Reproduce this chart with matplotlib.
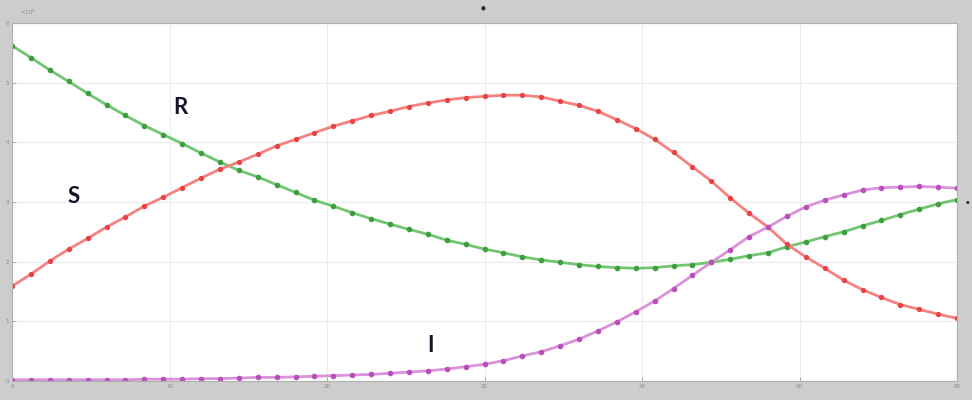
import numpy as np
import matplotlib
matplotlib.use("Agg")
import matplotlib.pyplot as plt

# time axis: 51 samples over 0..60
t = np.linspace(0, 60, 51)

# green curve (decreasing, then recovering)
s_vals = [5.62, 5.42, 5.21, 5.02, 4.82, 4.63, 4.45, 4.28, 4.13, 3.98,
          3.82, 3.67, 3.53, 3.42, 3.29, 3.16, 3.03, 2.93, 2.82, 2.72,
          2.63, 2.54, 2.46, 2.36, 2.29, 2.21, 2.15, 2.08, 2.03, 1.99,
          1.95, 1.92, 1.90, 1.89, 1.90, 1.93, 1.95, 1.99, 2.04, 2.10,
          2.15, 2.25, 2.33, 2.42, 2.50, 2.60, 2.69, 2.79, 2.88, 2.97,
          3.04]

# red curve (rises, peaks, falls)
r_vals = [1.59, 1.79, 2.01, 2.21, 2.39, 2.58, 2.75, 2.93, 3.08, 3.24,
          3.40, 3.55, 3.67, 3.80, 3.94, 4.05, 4.16, 4.27, 4.36, 4.45,
          4.52, 4.60, 4.66, 4.71, 4.75, 4.77, 4.79, 4.79, 4.76, 4.69,
          4.62, 4.52, 4.38, 4.23, 4.05, 3.83, 3.59, 3.35, 3.07, 2.81,
          2.58, 2.29, 2.08, 1.89, 1.69, 1.53, 1.40, 1.28, 1.20, 1.12,
          1.05]

# magenta curve (flat, then S-shaped growth)
i_vals = [0.02, 0.02, 0.02, 0.02, 0.02, 0.02, 0.02, 0.03, 0.03, 0.03,
          0.04, 0.04, 0.05, 0.06, 0.06, 0.07, 0.08, 0.09, 0.10, 0.11,
          0.13, 0.15, 0.17, 0.20, 0.24, 0.28, 0.34, 0.42, 0.49, 0.59,
          0.70, 0.84, 0.99, 1.16, 1.34, 1.55, 1.77, 1.99, 2.20, 2.42,
          2.58, 2.76, 2.92, 3.03, 3.12, 3.20, 3.24, 3.25, 3.26, 3.25,
          3.23]

x_ticks = [0, 10, 20, 30, 40, 50, 60]
y_ticks = [0, 1, 2, 3, 4, 5, 6]

fig = plt.figure(figsize=(9.72, 4.0), dpi=100)
fig.patch.set_facecolor("#cdcdcd")
ax = fig.add_axes([12/972, 19/400, 945/972, 358/400])
ax.set_facecolor("white")

ax.plot(t, s_vals, color="#72c672", lw=2.0, marker="o", ms=3.0,
        mfc="#3f9f3f", mec="#3f9f3f")
ax.plot(t, r_vals, color="#f78080", lw=2.0, marker="o", ms=2.8,
        mfc="#e84444", mec="#e84444")
ax.plot(t, i_vals, color="#da92da", lw=2.0, marker="o", ms=3.0,
        mfc="#b94fb9", mec="#b94fb9")

ax.set_xlim(0, 60)
ax.set_ylim(0, 6)
ax.set_xticks(x_ticks)
ax.set_yticks(y_ticks)
ax.set_xticklabels([str(v) for v in x_ticks])
ax.set_yticklabels([str(v) for v in y_ticks])
ax.tick_params(direction="in", length=3, width=0.6, colors="#9a9a9a",
               labelsize=4, pad=2, labelcolor="#8a8a8a")
ax.grid(True, color="#ececec", lw=0.8)
for sp in ax.spines.values():
    sp.set_color("#b0b0b0")
    sp.set_linewidth(0.8)

fig.text(20/972, 1 - 12/400, r"$\times10^5$", fontsize=4, color="#8a8a8a",
         ha="left", va="center")

lab = dict(fontsize=16, fontweight="bold", family="Lato", color="#141428",
           ha="center", va="center")
ax.text(10.67, 4.59, "R", **lab)
ax.text(3.94, 3.10, "S", **lab)
ax.text(26.54, 0.60, "I", **lab)

# small dark dots on the window frame
fig.text(483/972, 1 - 8/400, "\u25cf", fontsize=4, color="#2a2a2a",
         ha="center", va="center")
fig.text(968/972, 1 - 203/400, "\u25cf", fontsize=3, color="#2a2a2a",
         ha="center", va="center")

fig.savefig("out.png", dpi=100, facecolor=fig.get_facecolor())
